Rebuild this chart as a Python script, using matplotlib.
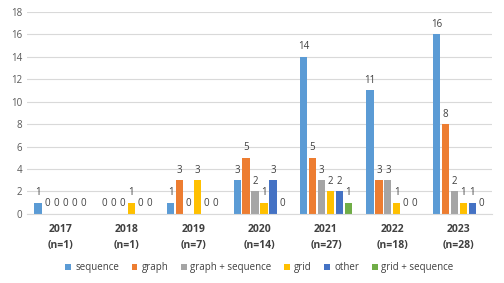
import numpy as np
import matplotlib.pyplot as plt

years = ["2017\n(n=1)", "2018\n(n=1)", "2019\n(n=7)", "2020\n(n=14)",
         "2021\n(n=27)", "2022\n(n=18)", "2023\n(n=28)"]
series = ["sequence", "graph", "graph + sequence", "grid", "other", "grid + sequence"]
sequence = [1, 0, 1, 3, 14, 11, 16]
graph = [0, 0, 3, 5, 5, 3, 8]
graph_seq = [0, 0, 0, 2, 3, 3, 2]
grid = [0, 1, 3, 1, 2, 1, 1]
other = [0, 0, 0, 3, 2, 0, 1]
grid_seq = [0, 0, 0, 0, 1, 0, 0]
values = [sequence, graph, graph_seq, grid, other, grid_seq]
colors = ["#5B9BD5", "#ED7D31", "#A5A5A5", "#FFC000", "#4472C4", "#70AD47"]

plt.rcParams["font.family"] = ["Open Sans", "DejaVu Sans"]

fig = plt.figure(figsize=(5.04, 2.83), dpi=100)
ax = fig.add_axes([0.054, 0.244, 0.922, 0.714])

x = np.arange(len(years))
pitch = 0.135
width = 0.11
for i, (name, vals, c) in enumerate(zip(series, values, colors)):
    pos = x + (i - 2.5) * pitch
    ax.bar(pos, vals, width, color=c, label=name, zorder=2)
    for p, v in zip(pos, vals):
        ax.text(p, v + 0.4, str(v), ha="center", va="bottom", fontsize=7, color="#404040")

ax.set_xlim(-0.5, len(years) - 0.5)
ax.set_ylim(0, 18)
ax.set_yticks(range(0, 19, 2))
ax.set_xticks(x)
ax.set_xticklabels(years, fontsize=7.5, fontweight="bold", color="#404040", linespacing=1.7)
ax.tick_params(axis="y", labelsize=7, colors="#595959", length=0)
ax.tick_params(axis="x", length=0, pad=7)
ax.grid(axis="y", color="#D9D9D9", linewidth=0.8, zorder=0)
for s in ["top", "right", "left"]:
    ax.spines[s].set_visible(False)
ax.spines["bottom"].set_color("#D9D9D9")

ax.legend(loc="upper center", bbox_to_anchor=(0.5, -0.195), ncol=6, frameon=False,
          fontsize=7, handlelength=0.6, handleheight=0.6, handletextpad=0.4,
          columnspacing=1.3, labelcolor="#404040")

fig.savefig("out.png", dpi=100)
